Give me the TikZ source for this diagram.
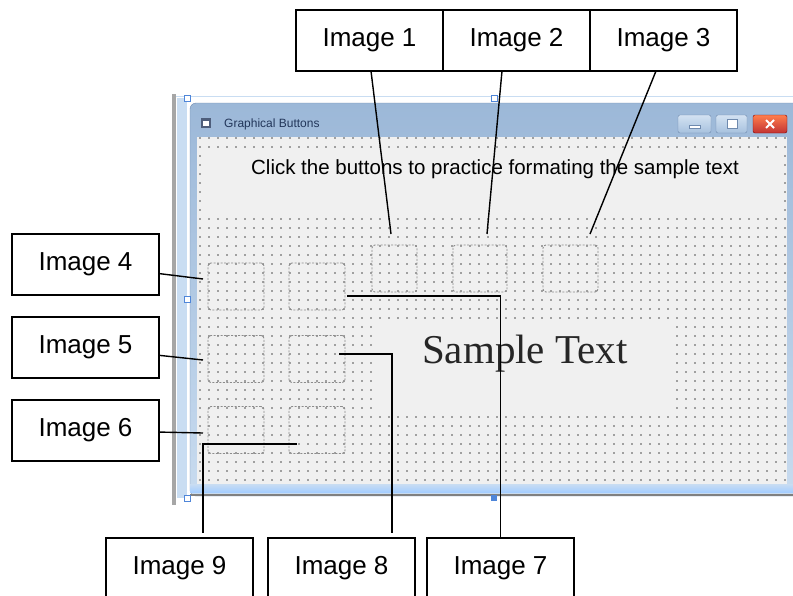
\documentclass[tikz,border=0pt]{standalone}
\usepackage{fontspec}
\setmainfont{Liberation Sans}
\newfontfamily\samplefont{Liberation Serif}
\usetikzlibrary{positioning, calc}
\definecolor{clientgrey}{HTML}{F0F0F0}
\definecolor{dotgrey}{HTML}{A0A0A0}
\definecolor{ctlgrey}{HTML}{8C8C8C}
\definecolor{barblue}{HTML}{C9DDF2}
\definecolor{handleblue}{HTML}{4F86D9}
\definecolor{titletop}{HTML}{9CB8D8}
\definecolor{titlebot}{HTML}{C8DBEF}
\definecolor{btntop}{HTML}{D3E2F2}
\definecolor{btnbot}{HTML}{A7C1DE}
\definecolor{btnedge}{HTML}{6F8AAE}
\definecolor{titletext}{HTML}{22365A}

\begin{document}
\begin{tikzpicture}[x=1pt, y=-1pt,
  lblbox/.style={rectangle, draw, line width=1.4pt, fill=white, outer sep=0pt, minimum width=147pt, minimum height=61pt, font=\fontsize{26}{31}\selectfont},
  ctl/.style={rectangle, draw=ctlgrey, line width=0.9pt, dash pattern=on 2pt off 1.5pt, rounded corners=3pt, minimum height=47pt, inner sep=0pt, outer sep=0pt},
  lead/.style={line width=1.4pt},
  handle/.style={draw=handleblue, line width=0.8pt, fill=white},
  dotgrid/.style={dotgrey, line width=1.8pt, dash pattern=on 1.8pt off 7.2pt}]
\useasboundingbox (0,0) rectangle (793,595);
\clip (0,0) rectangle (793,595);

% form designer surface
\fill[gray!70] (172,94) rectangle (176,505);
\fill[barblue] (177,98) rectangle (187,498);
\draw[barblue, line width=1.5pt] (176,96.5) -- (793,96.5);

% the window
\shade[top color=titletop, bottom color=titlebot, draw=btnedge, rounded corners=6pt] (190,496) rectangle (805,103);
\fill[clientgrey] (197,137) rectangle (787,484);
\shade[top color=barblue, bottom color=cyan!45!blue!35] (190,484) rectangle (800,492);
\draw[gray, line width=1.2pt] (190,495) -- (800,495);

% title bar
\fill[titletext!80] (201,118) rectangle (211,128);
\fill[white] (203,121) rectangle (209,126);
\node[anchor=west, text=titletext, font=\fontsize{12}{14}\selectfont, inner sep=0pt] (title) at (224,124) {Graphical Buttons};
\shade[top color=btntop, bottom color=btnbot, draw=btnedge, rounded corners=2pt] (678,115) rectangle (711,133);
\draw[fill=white, draw=btnedge] (689,125) rectangle (700,128);
\shade[top color=btntop, bottom color=btnbot, draw=btnedge, rounded corners=2pt] (716,115) rectangle (747,133);
\draw[fill=white, draw=btnedge, line width=1pt] (727,119) rectangle (737,128);
\shade[top color=red!45!orange!70, bottom color=red!70!black!80, draw=red!50!black, rounded corners=2pt] (753,115) rectangle (787,133);
\draw[white, line width=2pt] (766,120) -- (774,128) (774,120) -- (766,128);

% grid dots, then the two labels on top of them
\foreach \gy in {138,147,...,480}
  \draw[dotgrid] (199.1,\gy) -- (787,\gy);
\fill[clientgrey] (204,152) rectangle (781,215);
\fill[clientgrey] (376,322) rectangle (672,412);
\node[font=\fontsize{20.5}{24}\selectfont, inner sep=0pt, text=black] (prompt) at (495,169) {Click the buttons to practice formating the sample text};
\node[anchor=base west, font=\samplefont\fontsize{41}{48}\selectfont, inner sep=0pt, text=black!85] (sample) at (422,363) {Sample Text};

% handles
\draw[handle] (184,95) rectangle +(6,6);
\draw[handle] (491,95) rectangle +(6,6);
\draw[handle] (184,296) rectangle +(6,6);
\draw[handle] (184,495) rectangle +(6,6);
\fill[handleblue] (491,495) rectangle +(6,6);

% image controls
\node[ctl, minimum width=45pt] (img1) at (394.5,268.5) {};
\node[ctl, minimum width=54pt] (img2) at (480,268.5) {};
\node[ctl, minimum width=55pt] (img3) at (570.5,268.5) {};
\node[ctl, minimum width=56pt] (img4) at (236,286.5) {};
\node[ctl, minimum width=56pt] (img7) at (317,286.5) {};
\node[ctl, minimum width=56pt] (img5) at (236,359) {};
\node[ctl, minimum width=56pt] (img8) at (317,359) {};
\node[ctl, minimum width=56pt] (img6) at (236,430) {};
\node[ctl, minimum width=56pt] (img9) at (317,430) {};

% label boxes
\node[lblbox] (lbl1) at (369.5,40.5) {Image 1};
\node[lblbox, right=0pt of lbl1] (lbl2) {Image 2};
\node[lblbox, right=0pt of lbl2] (lbl3) {Image 3};
\node[lblbox] (lbl4) at (85.5,264.5) {Image 4};
\node[lblbox, below=22pt of lbl4] (lbl5) {Image 5};
\node[lblbox, below=22pt of lbl5] (lbl6) {Image 6};
\node[lblbox] (lbl9) at (179.5,568.5) {Image 9};
\node[lblbox, right=15pt of lbl9] (lbl8) {Image 8};
\node[lblbox, right=12pt of lbl8] (lbl7) {Image 7};

\draw[lead] ([xshift=1.5pt]lbl1.south) -- ([xshift=-3.5pt,yshift=11pt]img1.north);
\draw[lead] ([xshift=-14.5pt]lbl2.south) -- ([xshift=7pt,yshift=11pt]img2.north);
\draw[lead] ([xshift=-7.5pt]lbl3.south) -- ([xshift=19.5pt,yshift=11pt]img3.north);
\draw[lead] (lbl4) -- ([xshift=-5pt,yshift=7.5pt]img4.west);
\draw[lead] (lbl5) -- ([xshift=-5pt,yshift=-1pt]img5.west);
\draw[lead] (lbl6) -- ([xshift=-5pt,yshift=-3pt]img6.west);
\draw[lead] ([xshift=2pt,yshift=-9.5pt]img7.east) -| (lbl7.north);
\draw[lead] ([xshift=22pt,yshift=5pt]img8.center) -| ([xshift=50.5pt,yshift=5pt]lbl8.north);
\draw[lead] ([xshift=-20pt,yshift=-14pt]img9.center) -| ([xshift=23.5pt,yshift=5pt]lbl9.north);
\end{tikzpicture}
\end{document}
